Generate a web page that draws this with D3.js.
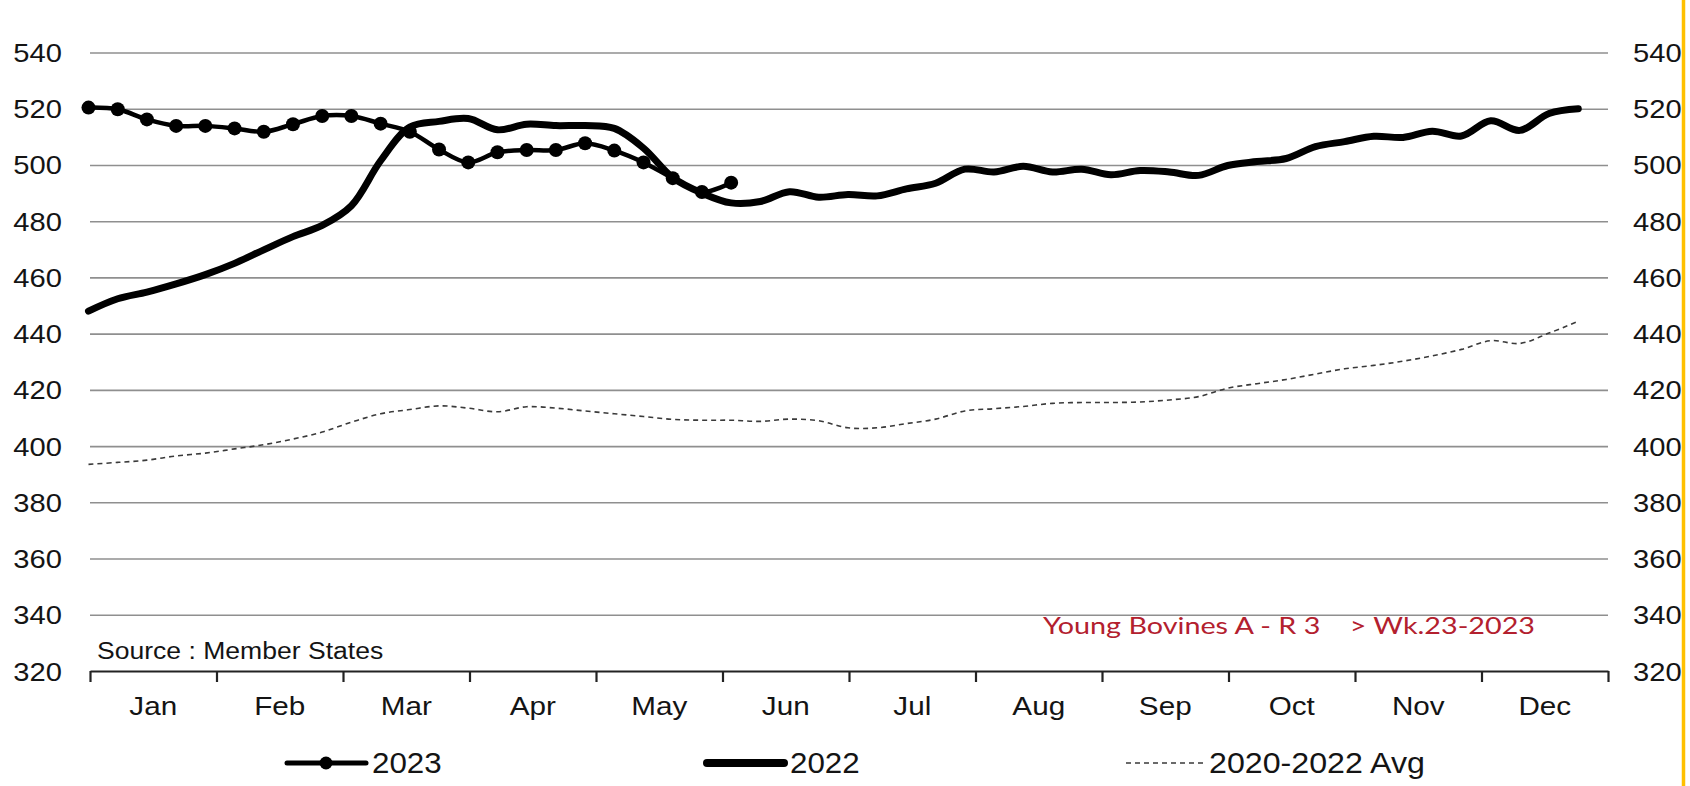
<!DOCTYPE html>
<html><head><meta charset="utf-8">
<script src="https://cdn.jsdelivr.net/npm/d3@7"></script>
<style>
html,body{margin:0;padding:0;background:#fff;}
svg{display:block;}
text{font-family:"Liberation Sans", Arial, sans-serif; fill:#141414;}
</style></head><body>
<svg id="chart" width="1690" height="786"></svg>
<script>
// ---- data ----
const months = ["Jan","Feb","Mar","Apr","May","Jun","Jul","Aug","Sep","Oct","Nov","Dec"];
const yTicks = [320,340,360,380,400,420,440,460,480,500,520,540];
const series2023 = [520.4,519.8,516.2,513.9,513.9,513.0,511.8,514.5,517.4,517.4,514.7,511.8,
  505.5,500.9,504.5,505.3,505.3,507.7,505.1,500.9,495.3,490.4,493.7];
const series2022 = [448,452.4,454.8,457.7,461,465,469.8,474.5,478.5,485.5,501.5,513.5,
  515.5,516.5,512.5,514.5,514,514,513,506,495.5,490,486.5,487,490.5,488.5,
  489.5,489,491.5,493.5,498.5,497.5,499.5,497.5,498.5,496.5,498,497.5,496.3,499.8,
  501.2,502.3,506.5,508.3,510.2,509.8,512,510.3,515.7,512.3,518.3,520];
const seriesAvg = [393.5,394.2,395,396.5,397.5,399,400.5,402.5,405,408.5,411.5,413,
  414.3,413.5,412.2,414,413.5,412.5,411.5,410.5,409.5,409.2,409.2,408.8,409.6,409,
  406.5,406.5,408,409.6,412.5,413.3,414.1,415.2,415.5,415.5,415.7,416.4,417.6,420.6,
  422.2,423.7,425.6,427.5,428.7,430.2,432.1,434.4,437.5,436.5,440.2,444.4];
const legendLabels = ["2023","2022","2020-2022 Avg"];
const sourceText = "Source : Member  States";
const noteText = "Young Bovines A - R 3    > Wk.23-2023";

// ---- layout ----
const X0 = 90, X1 = 1608;
const svg = d3.select("#chart");
const x = d3.scaleLinear().domain([1, 53]).range([88.5, 1607.5]);
const y = d3.scaleLinear().domain([320, 540]).range([671, 52.5]);
const mx = d3.scaleLinear().domain([0, 12]).range([X0, X1]);
const band = d3.scaleBand().domain(months).range([X0, X1]);

function stext(g, tx, ty, str, size, anchor, sx) {
  return g.append("g").attr("transform", `translate(${tx},${ty}) scale(${sx},1)`)
    .append("text").attr("text-anchor", anchor).attr("font-size", size).text(str);
}

// gridlines
const grid = svg.append("g").attr("transform", `translate(${X0},0)`)
  .call(d3.axisLeft(y).tickValues(yTicks.filter(v => v > 320)).tickSize(-(X1 - X0)).tickFormat(""));
grid.select(".domain").remove();
grid.selectAll("line").attr("stroke", "#8f8f8f").attr("stroke-width", 1.6);

// y labels (left and right)
const yl = svg.append("g");
yTicks.forEach(v => {
  stext(yl, 62, y(v) + 9.5, v, 26.5, "end", 1.1);
  stext(yl, 1633, y(v) + 9.5, v, 26.5, "start", 1.1);
});

// x axis
const xa = svg.append("g").attr("transform", `translate(0,${y(320)})`)
  .call(d3.axisBottom(mx).tickValues(d3.range(13)).tickSize(11).tickSizeOuter(0).tickFormat(""));
xa.select(".domain").attr("stroke", "#222").attr("stroke-width", 2.2);
xa.selectAll("line").attr("stroke", "#222").attr("stroke-width", 2.2);
const ml = svg.append("g");
months.forEach(m => stext(ml, band(m) + band.bandwidth() / 2, 715, m, 26.5, "middle", 1.12));

// series
const curve = d3.curveCatmullRom.alpha(0.5);
const mk = d3.line().x((d, i) => x(i + 1)).y(d => y(d)).curve(curve);
svg.append("path").attr("d", mk(seriesAvg)).attr("fill", "none")
  .attr("stroke", "#3a3a3a").attr("stroke-width", 1.6).attr("stroke-dasharray", "5,4");
svg.append("path").attr("d", mk(series2022)).attr("fill", "none")
  .attr("stroke", "#000").attr("stroke-width", 7).attr("stroke-linecap", "round").attr("stroke-linejoin", "round");
svg.append("path").attr("d", mk(series2023)).attr("fill", "none")
  .attr("stroke", "#000").attr("stroke-width", 4.5).attr("stroke-linecap", "round").attr("stroke-linejoin", "round");
svg.append("g").selectAll("circle").data(series2023).join("circle")
  .attr("cx", (d, i) => x(i + 1)).attr("cy", d => y(d)).attr("r", 7).attr("fill", "#000");

// annotations
stext(svg, 97, 659, sourceText, 23.5, "start", 1.13);
svg.append("text").attr("x", 1043).attr("y", 634).attr("font-size", 23)
  .attr("style", "font-family:Lato,'Open Sans',sans-serif;fill:#b3202e;white-space:pre")
  .attr("textLength", 492).attr("lengthAdjust", "spacingAndGlyphs").text(noteText);

// legend
const LY = 763;
const lg = svg.append("g");
lg.append("line").attr("x1", 287).attr("x2", 366).attr("y1", LY).attr("y2", LY)
  .attr("stroke", "#000").attr("stroke-width", 5).attr("stroke-linecap", "round");
lg.append("circle").attr("cx", 326).attr("cy", LY).attr("r", 6.5).attr("fill", "#000");
stext(lg, 372, LY + 10, legendLabels[0], 29, "start", 1.08);
lg.append("line").attr("x1", 707).attr("x2", 784).attr("y1", LY).attr("y2", LY)
  .attr("stroke", "#000").attr("stroke-width", 8).attr("stroke-linecap", "round");
stext(lg, 790, LY + 10, legendLabels[1], 29, "start", 1.08);
lg.append("line").attr("x1", 1126).attr("x2", 1205).attr("y1", LY).attr("y2", LY)
  .attr("stroke", "#3a3a3a").attr("stroke-width", 1.6).attr("stroke-dasharray", "5,4");
stext(lg, 1209, LY + 10, legendLabels[2], 29, "start", 1.11);

// right orange border
svg.append("line").attr("x1", 1683.5).attr("x2", 1683.5).attr("y1", 0).attr("y2", 786)
  .attr("stroke", "#ffc000").attr("stroke-width", 3.5);
</script>
</body></html>
